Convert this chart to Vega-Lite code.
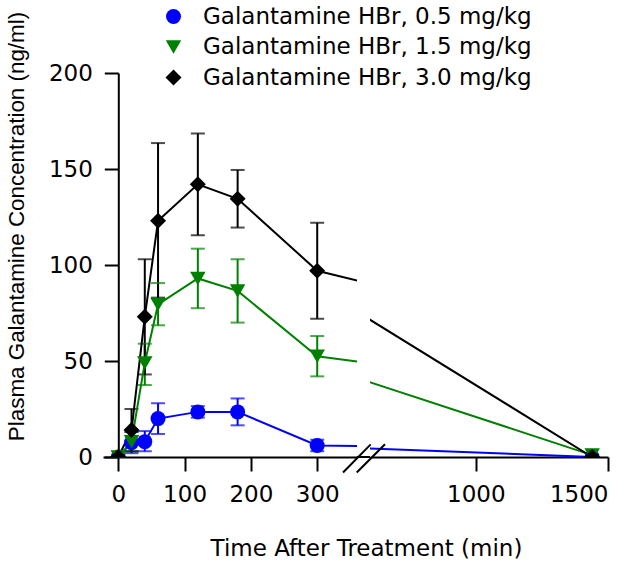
{
  "$schema": "https://vega.github.io/schema/vega-lite/v6.json",
  "background": "white",
  "padding": 5,
  "bounds": "flush",
  "spacing": 13,
  "datasets": {
    "pk": [
      {"dose": "Galantamine HBr, 0.5 mg/kg", "t": 0, "mean": 0, "lo": 0, "hi": 0},
      {"dose": "Galantamine HBr, 0.5 mg/kg", "t": 20, "mean": 7.5, "lo": 2, "hi": 13},
      {"dose": "Galantamine HBr, 0.5 mg/kg", "t": 40, "mean": 8, "lo": 3, "hi": 13.5},
      {"dose": "Galantamine HBr, 0.5 mg/kg", "t": 60, "mean": 20, "lo": 12, "hi": 28},
      {"dose": "Galantamine HBr, 0.5 mg/kg", "t": 120, "mean": 23.5, "lo": 20.5, "hi": 26.5},
      {"dose": "Galantamine HBr, 0.5 mg/kg", "t": 180, "mean": 23.5, "lo": 16.5, "hi": 30.5},
      {"dose": "Galantamine HBr, 0.5 mg/kg", "t": 300, "mean": 6, "lo": 3, "hi": 9},
      {"dose": "Galantamine HBr, 0.5 mg/kg", "t": 1440, "mean": 0, "lo": 0, "hi": 0},
      {"dose": "Galantamine HBr, 1.5 mg/kg", "t": 0, "mean": 0, "lo": 0, "hi": 0},
      {"dose": "Galantamine HBr, 1.5 mg/kg", "t": 20, "mean": 8, "lo": 3, "hi": 13},
      {"dose": "Galantamine HBr, 1.5 mg/kg", "t": 40, "mean": 49, "lo": 37.5, "hi": 59},
      {"dose": "Galantamine HBr, 1.5 mg/kg", "t": 60, "mean": 79.5, "lo": 68.6, "hi": 90.6},
      {"dose": "Galantamine HBr, 1.5 mg/kg", "t": 120, "mean": 93, "lo": 77.5, "hi": 108.5},
      {"dose": "Galantamine HBr, 1.5 mg/kg", "t": 180, "mean": 86.5, "lo": 70, "hi": 103},
      {"dose": "Galantamine HBr, 1.5 mg/kg", "t": 300, "mean": 52.5, "lo": 42, "hi": 63},
      {"dose": "Galantamine HBr, 1.5 mg/kg", "t": 1440, "mean": 1, "lo": 1, "hi": 1},
      {"dose": "Galantamine HBr, 3.0 mg/kg", "t": 0, "mean": 0, "lo": 0, "hi": 0},
      {"dose": "Galantamine HBr, 3.0 mg/kg", "t": 20, "mean": 14, "lo": 3, "hi": 25},
      {"dose": "Galantamine HBr, 3.0 mg/kg", "t": 40, "mean": 73, "lo": 43, "hi": 103},
      {"dose": "Galantamine HBr, 3.0 mg/kg", "t": 60, "mean": 123, "lo": 83, "hi": 163.5},
      {"dose": "Galantamine HBr, 3.0 mg/kg", "t": 120, "mean": 142, "lo": 115.5, "hi": 168.5},
      {"dose": "Galantamine HBr, 3.0 mg/kg", "t": 180, "mean": 134.5, "lo": 119.5, "hi": 149.5},
      {"dose": "Galantamine HBr, 3.0 mg/kg", "t": 300, "mean": 97, "lo": 72, "hi": 122},
      {"dose": "Galantamine HBr, 3.0 mg/kg", "t": 1440, "mean": 0, "lo": 0, "hi": 0}
    ],
    "brk": [
      {"x": 498, "x2": 602.6, "y": -8.1, "y2": 6.6},
      {"x": 549.7, "x2": 656.7, "y": -8.1, "y2": 6.6}
    ],
    "gap": [
      {"x": 550, "x2": 600, "y": 0}
    ]
  },
  "config": {
    "view": {"stroke": null},
    "font": "DejaVu Sans",
    "axis": {
      "grid": false,
      "domainColor": "black",
      "domainWidth": 2,
      "tickColor": "black",
      "tickWidth": 2,
      "tickSize": 14,
      "labelColor": "black",
      "labelFont": "DejaVu Sans",
      "labelFontSize": 23,
      "labelPadding": 12,
      "titleColor": "black",
      "titleFontWeight": "normal"
    },
    "legend": {
      "orient": "none",
      "legendX": 59,
      "legendY": -68,
      "padding": 0,
      "labelFont": "DejaVu Sans",
      "labelFontSize": 23,
      "labelColor": "black",
      "labelLimit": 0,
      "labelOffset": 18,
      "symbolSize": 220,
      "symbolOpacity": 1,
      "symbolStrokeWidth": 0,
      "rowPadding": 6.5
    }
  },
  "hconcat": [
    {
      "width": 254,
      "height": 384,
      "data": {"name": "pk"},
      "layer": [
        {
          "mark": {"type": "rule", "strokeWidth": 2},
          "encoding": {
            "x": {"field": "t", "type": "quantitative", "scale": {"domain": [-23, 360], "nice": false, "zero": false},
                  "axis": {"values": [0, 100, 200, 300], "format": "d", "title": "Time After Treatment (min)", "titleFont": "DejaVu Sans", "titleFontSize": 23, "titleX": 263, "titlePadding": 31}},
            "y": {"field": "lo", "type": "quantitative", "scale": {"domain": [0, 200], "nice": false, "zero": false},
                  "axis": {"values": [0, 50, 100, 150, 200], "offset": -15.3, "title": "Plasma Galantamine Concentration (ng/ml)", "titleFont": "Liberation Sans", "titleFontSize": 22.4, "titleY": 153, "titleX": -90}},
            "y2": {"field": "hi"},
            "color": {"field": "dose", "type": "nominal", "scale": {"domain": ["Galantamine HBr, 0.5 mg/kg", "Galantamine HBr, 1.5 mg/kg", "Galantamine HBr, 3.0 mg/kg"], "range": ["#0000ff", "#008000", "#000000"]}, "legend": {"title": null}}
          }
        },
        {
          "mark": {"type": "tick", "orient": "horizontal", "size": 14, "thickness": 2},
          "encoding": {
            "x": {"field": "t", "type": "quantitative"},
            "y": {"field": "lo", "type": "quantitative"},
            "color": {"field": "dose", "type": "nominal", "legend": {"title": null}}
          }
        },
        {
          "mark": {"type": "tick", "orient": "horizontal", "size": 14, "thickness": 2},
          "encoding": {
            "x": {"field": "t", "type": "quantitative"},
            "y": {"field": "hi", "type": "quantitative"},
            "color": {"field": "dose", "type": "nominal", "legend": {"title": null}}
          }
        },
        {
          "mark": {"type": "line", "strokeWidth": 2, "clip": true},
          "encoding": {
            "x": {"field": "t", "type": "quantitative"},
            "y": {"field": "mean", "type": "quantitative"},
            "color": {"field": "dose", "type": "nominal", "legend": {"title": null}}
          }
        },
        {
          "mark": {"type": "point", "filled": true, "opacity": 1, "clip": true},
          "encoding": {
            "x": {"field": "t", "type": "quantitative"},
            "y": {"field": "mean", "type": "quantitative"},
            "color": {"field": "dose", "type": "nominal", "legend": {"title": null}},
            "shape": {"field": "dose", "type": "nominal", "scale": {"domain": ["Galantamine HBr, 0.5 mg/kg", "Galantamine HBr, 1.5 mg/kg", "Galantamine HBr, 3.0 mg/kg"], "range": ["circle", "triangle-down", "diamond"]}, "legend": {"title": null}},
            "size": {"field": "dose", "type": "nominal", "scale": {"domain": ["Galantamine HBr, 0.5 mg/kg", "Galantamine HBr, 1.5 mg/kg", "Galantamine HBr, 3.0 mg/kg"], "range": [225, 256, 324]}, "legend": null}
          }
        }
      ]
    },
    {
      "width": 238,
      "height": 384,
      "layer": [
        {
          "data": {"name": "pk"},
          "mark": {"type": "rule", "strokeWidth": 2, "clip": true},
          "encoding": {
            "x": {"field": "t", "type": "quantitative", "scale": {"domain": [600, 1500], "nice": false, "zero": false},
                  "axis": {"values": [1000, 1500], "format": "d", "title": null}},
            "y": {"field": "lo", "type": "quantitative", "scale": {"domain": [0, 200], "nice": false, "zero": false}, "axis": null},
            "y2": {"field": "hi"},
            "color": {"field": "dose", "type": "nominal", "legend": {"title": null}}
          }
        },
        {
          "data": {"name": "pk"},
          "mark": {"type": "line", "strokeWidth": 2, "clip": true},
          "encoding": {
            "x": {"field": "t", "type": "quantitative"},
            "y": {"field": "mean", "type": "quantitative"},
            "color": {"field": "dose", "type": "nominal", "legend": {"title": null}}
          }
        },
        {
          "data": {"name": "pk"},
          "mark": {"type": "point", "filled": true, "opacity": 1, "clip": true},
          "encoding": {
            "x": {"field": "t", "type": "quantitative"},
            "y": {"field": "mean", "type": "quantitative"},
            "color": {"field": "dose", "type": "nominal", "legend": {"title": null}},
            "shape": {"field": "dose", "type": "nominal", "legend": {"title": null}},
            "size": {"field": "dose", "type": "nominal", "scale": {"domain": ["Galantamine HBr, 0.5 mg/kg", "Galantamine HBr, 1.5 mg/kg", "Galantamine HBr, 3.0 mg/kg"], "range": [225, 256, 324]}, "legend": null}
          }
        },
        {
          "data": {"name": "gap"},
          "mark": {"type": "rule", "strokeWidth": 2, "color": "black", "clip": false},
          "encoding": {
            "x": {"field": "x", "type": "quantitative"},
            "x2": {"field": "x2"},
            "y": {"field": "y", "type": "quantitative"}
          }
        },
        {
          "data": {"name": "brk"},
          "mark": {"type": "rule", "strokeWidth": 2, "color": "black", "clip": false},
          "encoding": {
            "x": {"field": "x", "type": "quantitative"},
            "x2": {"field": "x2"},
            "y": {"field": "y", "type": "quantitative"},
            "y2": {"field": "y2"}
          }
        }
      ]
    }
  ]
}
